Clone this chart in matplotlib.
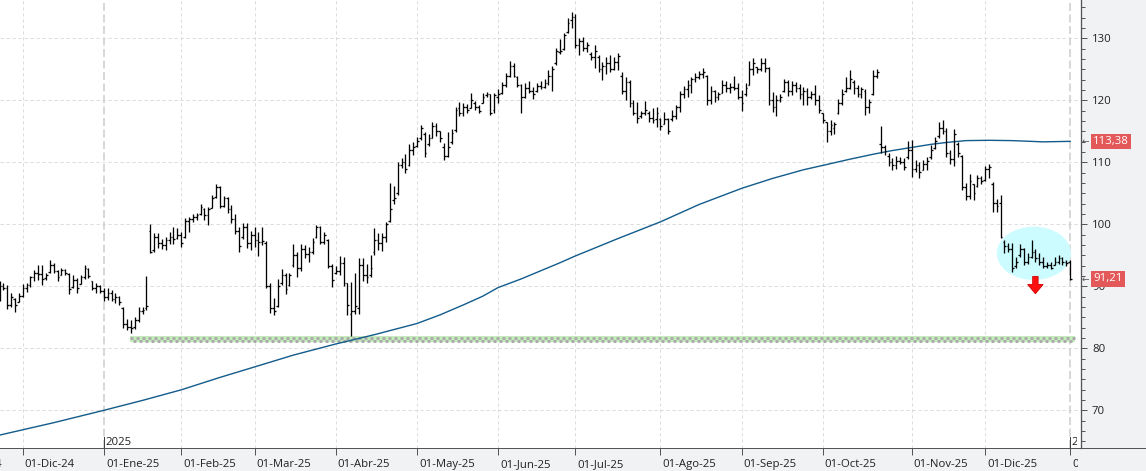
import numpy as np
import pandas as pd
import matplotlib
matplotlib.use("Agg")
import matplotlib.pyplot as plt
from matplotlib.collections import LineCollection
from matplotlib.patches import Ellipse, Polygon
from matplotlib.lines import Line2D
from matplotlib.transforms import blended_transform_factory, Bbox, TransformedBbox
from matplotlib.ticker import MultipleLocator

plt.rcParams['font.family'] = ['Open Sans', 'DejaVu Sans']
plt.rcParams['lines.scale_dashes'] = False

# ---------------- data ----------------
calendar_start = "2024-11-01"
first_day = "2024-11-21"
last_day = "2026-01-02"
holidays = ["2024-11-28", "2024-12-25", "2025-01-01", "2025-01-09", "2025-01-20",
            "2025-02-17", "2025-04-18", "2025-05-26", "2025-06-19", "2025-07-04",
            "2025-09-01", "2025-11-27", "2025-12-25", "2026-01-01"]

highs = [90.8, 90.5, 90.2, 88.9, 88.05, 88.9, 90.3, 90.5, 91.7, 92.6,
         93.5, 93.4, 92.1, 94.2, 93.7, 92.6, 93.0, 92.8, 92.1, 91.9,
         91.3, 91.8, 93.5, 93.0, 90.85, 90.5, 90.2, 89.8, 89.7, 89.4,
         89.0, 88.5, 86.7, 84.7, 84.6, 85.1, 86.7, 86.7, 91.7, 100.0,
         98.65, 98.55, 97.7, 98.0, 98.7, 99.6, 99.35, 98.8, 101.0, 101.2,
         101.6, 101.8, 103.2, 102.6, 102.8, 104.7, 106.45, 106.2, 104.6, 104.45,
         103.1, 101.6, 99.5, 100.2, 100.2, 98.9, 99.6, 98.8, 99.6, 97.3,
         90.6, 88.06, 91.1, 92.75, 92.2, 92.1, 96.8, 95.6, 96.8, 96.66,
         96.4, 97.74, 99.9, 99.7, 98.8, 97.58, 93.6, 93.2, 94.9, 94.67,
         90.6, 90.75, 92.2, 94.5, 94.5, 93.6, 95.05, 99.35, 98.55, 98.65,
         100.4, 106.6, 106.18, 110.1, 110.64, 111.34, 112.96, 113.33, 114.03, 116.02,
         114.95, 114.57, 116.56, 116.4, 115.1, 113.17, 114.95, 115.32, 118.98, 119.78,
         119.5, 119.4, 121.24, 119.94, 119.24, 121.13, 121.4, 121.02, 121.24, 121.8,
         123.0, 124.35, 126.4, 126.07, 123.92, 122.63, 122.85, 123.17, 122.1, 122.8,
         123.1, 123.4, 124.9, 125.6, 128.4, 129.9, 130.8, 133.2, 134.3, 134.0,
         130.1, 130.26, 129.46, 127.84, 129.0, 127.3, 126.2, 127.0, 127.3, 127.0,
         127.7, 124.6, 123.8, 123.3, 120.05, 119.8, 118.3, 119.9, 118.2, 118.7,
         119.0, 117.2, 118.06, 117.2, 118.4, 119.24, 121.5, 122.36, 123.27, 123.8,
         124.35, 124.7, 125.26, 124.1, 122.36, 121.66, 121.4, 123.27, 123.1, 122.74,
         123.97, 122.74, 121.66, 122.74, 126.34, 126.9, 125.4, 126.77, 126.77, 125.4,
         121.4, 120.85, 120.96, 123.4, 123.27, 123.1, 122.9, 122.57, 122.2, 122.0,
         121.55, 122.47, 120.85, 118.0, 116.55, 116.8, 116.55, 120.16, 121.77, 123.7,
         124.9, 123.27, 122.47, 122.2, 121.77, 120.16, 124.9, 125.0, 115.85, 112.8,
         111.55, 110.64, 111.0, 110.9, 110.64, 113.5, 113.6, 110.4, 110.1, 110.4,
         110.9, 112.8, 114.13, 116.55, 116.8, 115.5, 112.0, 115.3, 113.33, 111.2,
         106.6, 108.1, 106.5, 107.95, 107.8, 109.4, 109.7, 106.88, 104.03, 104.7,
         97.47, 97.0, 96.93, 94.78, 96.82, 96.1, 95.43, 97.47, 95.96, 95.43,
         94.78, 93.97, 93.97, 94.78, 95.05, 94.67, 94.24, 94.24]

lows = [87.6, 89.4, 86.4, 86.7, 85.9, 87.5, 88.2, 89.1, 89.9, 90.85,
        91.0, 90.2, 91.0, 92.1, 92.1, 90.85, 91.8, 91.9, 88.7, 89.8,
        89.0, 90.3, 91.2, 91.4, 89.4, 89.0, 88.9, 87.6, 87.8, 87.6,
        87.25, 87.0, 83.3, 82.95, 82.4, 83.1, 84.3, 85.5, 86.2, 95.3,
        95.6, 96.2, 96.0, 95.85, 96.8, 96.9, 97.6, 96.4, 97.85, 98.7,
        100.4, 100.7, 101.5, 100.7, 99.9, 102.6, 104.2, 102.6, 102.8, 101.8,
        100.2, 98.5, 95.5, 97.7, 96.2, 95.85, 96.4, 94.9, 96.7, 89.8,
        85.75, 85.4, 86.7, 90.2, 88.76, 90.05, 93.17, 91.56, 92.4, 94.5,
        93.98, 95.2, 97.74, 96.8, 96.8, 92.9, 89.9, 92.0, 91.8, 90.05,
        85.4, 82.0, 85.5, 85.5, 90.9, 90.5, 91.56, 95.05, 95.86, 95.75,
        97.2, 100.4, 103.3, 104.73, 109.03, 108.2, 109.4, 111.18, 112.53, 113.6,
        110.9, 112.63, 113.87, 114.25, 113.33, 110.38, 110.9, 112.96, 114.95, 117.47,
        117.4, 118.0, 118.7, 118.44, 118.0, 119.5, 120.6, 117.63, 118.0, 119.6,
        121.0, 122.2, 123.7, 123.7, 122.2, 118.0, 120.3, 121.13, 120.16, 121.3,
        121.9, 122.0, 122.47, 121.5, 125.7, 127.4, 128.1, 130.8, 131.7, 128.4,
        127.3, 127.95, 127.84, 126.5, 125.16, 124.6, 123.3, 124.2, 124.6, 124.9,
        124.9, 121.0, 120.05, 119.0, 117.6, 116.3, 117.2, 117.6, 116.55, 116.3,
        115.75, 115.2, 116.12, 114.5, 116.66, 117.0, 118.06, 120.4, 120.6, 121.1,
        122.9, 123.4, 123.65, 119.24, 119.35, 119.8, 120.05, 121.1, 121.3, 121.1,
        121.66, 120.2, 118.27, 120.75, 122.47, 124.1, 124.35, 124.7, 124.6, 119.24,
        118.17, 117.4, 119.8, 121.4, 120.75, 120.85, 121.3, 120.2, 119.24, 119.3,
        120.16, 119.24, 117.9, 116.3, 113.3, 114.4, 114.56, 117.8, 119.24, 121.4,
        121.77, 121.0, 120.6, 120.3, 117.63, 117.9, 120.85, 123.54, 111.55, 111.2,
        109.4, 108.76, 109.0, 109.7, 108.76, 110.5, 107.6, 108.5, 107.4, 108.76,
        108.76, 110.5, 112.1, 114.0, 114.56, 110.9, 109.7, 109.4, 110.9, 105.5,
        103.9, 104.03, 104.0, 106.07, 106.5, 107.04, 107.4, 102.04, 102.04, 97.74,
        95.3, 95.6, 92.36, 92.9, 94.78, 93.44, 93.6, 94.5, 93.97, 93.44,
        92.9, 92.9, 92.74, 93.44, 93.6, 93.44, 93.27, 91.0]

opens = [88.5, 90.0, 89.8, 87.0, 88.0, 87.5, 88.5, 89.8, 90.2, 91.5,
         92.2, 92.0, 91.3, 92.3, 93.5, 92.5, 91.9, 92.6, 92.0, 89.9,
         91.0, 90.3, 91.5, 92.8, 90.8, 89.8, 90.0, 89.2, 88.3, 88.9,
         88.0, 88.2, 86.5, 84.0, 83.5, 83.4, 84.5, 86.0, 86.5, 99.0,
         95.8, 98.0, 97.0, 96.6, 97.5, 98.0, 97.8, 98.3, 98.0, 100.5,
         100.8, 101.2, 101.6, 102.5, 101.5, 102.7, 104.4, 106.0, 103.0, 104.2,
         102.5, 100.8, 99.0, 98.0, 99.5, 97.0, 98.3, 97.5, 97.2, 97.0,
         90.0, 86.5, 86.8, 90.5, 91.8, 90.2, 93.5, 95.0, 93.0, 96.0,
         95.2, 95.5, 98.0, 99.5, 97.2, 97.5, 93.2, 92.2, 92.5, 93.8,
         90.5, 85.5, 86.0, 86.5, 93.5, 91.8, 91.8, 95.5, 97.5, 97.0,
         98.0, 100.5, 104.0, 105.0, 109.5, 110.0, 109.5, 112.0, 112.6, 114.0,
         114.5, 113.0, 114.0, 115.8, 115.0, 112.5, 111.0, 113.2, 115.2, 118.8,
         118.0, 119.0, 118.8, 119.5, 119.0, 119.6, 120.8, 121.0, 118.5, 120.5,
         121.2, 122.5, 124.0, 125.5, 123.8, 122.5, 120.5, 122.0, 121.5, 121.5,
         122.3, 122.2, 122.8, 124.0, 126.0, 127.8, 128.3, 131.0, 133.0, 133.5,
         129.0, 129.5, 128.5, 127.5, 127.0, 127.0, 125.0, 125.5, 126.0, 125.0,
         126.2, 124.0, 121.5, 123.0, 119.5, 118.0, 117.5, 118.0, 118.0, 117.2,
         117.0, 117.0, 116.2, 117.0, 117.0, 117.5, 119.0, 121.0, 121.8, 122.5,
         123.5, 123.8, 124.2, 124.0, 120.0, 121.5, 120.5, 121.2, 122.5, 122.0,
         122.2, 122.0, 120.5, 121.0, 122.5, 125.0, 125.4, 125.0, 126.0, 125.2,
         120.0, 119.0, 120.0, 121.5, 123.0, 121.5, 122.5, 122.0, 121.0, 121.5,
         120.5, 121.0, 120.0, 118.0, 116.5, 115.0, 115.5, 118.0, 119.5, 121.5,
         122.0, 123.0, 122.0, 121.0, 121.5, 119.0, 121.0, 124.0, 113.0, 112.5,
         111.0, 110.0, 109.5, 110.2, 110.0, 110.8, 112.0, 109.0, 109.5, 108.8,
         109.8, 110.8, 112.3, 114.2, 115.5, 115.0, 111.5, 110.5, 113.0, 111.0,
         106.0, 104.5, 106.5, 106.2, 107.5, 107.2, 109.0, 106.5, 103.5, 103.5,
         97.2, 96.5, 96.0, 93.2, 95.0, 96.0, 94.0, 94.8, 95.5, 94.5,
         94.0, 93.2, 93.5, 93.5, 94.0, 94.5, 94.0, 94.0]

closes = [90.0, 89.8, 87.0, 88.2, 87.0, 88.5, 89.8, 90.2, 91.5, 92.2,
          92.0, 91.2, 91.8, 93.5, 92.5, 91.5, 92.6, 92.2, 89.5, 91.0,
          89.8, 91.5, 93.0, 91.6, 89.8, 90.0, 89.2, 88.3, 88.9, 87.9,
          88.2, 87.4, 84.0, 83.5, 83.2, 84.5, 86.0, 86.2, 86.9, 95.6,
          98.0, 97.0, 96.6, 97.5, 98.0, 97.6, 98.3, 97.0, 100.5, 100.8,
          101.2, 101.5, 102.8, 101.5, 102.5, 104.2, 106.0, 103.0, 104.2, 102.5,
          100.8, 99.0, 96.5, 99.5, 97.0, 98.3, 97.5, 97.2, 97.3, 90.0,
          86.5, 86.0, 90.0, 91.8, 89.5, 91.8, 95.0, 93.0, 96.0, 95.2,
          95.5, 97.2, 99.5, 97.2, 98.2, 93.2, 91.0, 92.5, 93.8, 90.5,
          87.0, 86.0, 86.8, 93.5, 91.8, 91.5, 93.0, 97.5, 97.0, 98.0,
          100.0, 102.5, 104.2, 109.5, 110.0, 109.0, 112.0, 112.5, 113.5, 115.5,
          111.5, 114.0, 115.8, 115.0, 114.0, 111.0, 112.5, 114.8, 118.5, 118.0,
          119.0, 118.5, 120.0, 119.0, 118.3, 120.6, 121.0, 118.0, 120.8, 121.0,
          122.5, 124.0, 125.5, 124.0, 122.5, 120.5, 122.0, 121.5, 121.0, 122.3,
          122.2, 122.8, 124.0, 125.0, 128.0, 128.0, 130.5, 132.5, 133.5, 129.0,
          129.5, 128.5, 129.0, 127.0, 128.0, 125.0, 125.5, 126.0, 125.0, 126.2,
          127.2, 121.5, 123.0, 119.5, 118.0, 117.2, 118.0, 118.5, 117.2, 116.8,
          118.0, 115.8, 117.0, 115.0, 117.5, 119.0, 121.0, 121.8, 122.5, 123.5,
          123.8, 124.2, 124.5, 120.0, 121.5, 120.5, 121.0, 122.5, 122.0, 122.2,
          122.0, 120.5, 119.5, 122.0, 125.0, 126.0, 125.0, 126.0, 125.2, 120.0,
          119.0, 120.0, 120.5, 123.0, 121.5, 122.5, 122.0, 121.0, 121.5, 120.5,
          121.0, 120.0, 118.5, 116.8, 115.0, 116.0, 116.2, 119.5, 121.0, 122.0,
          123.5, 122.0, 121.0, 121.8, 119.0, 119.8, 124.0, 124.5, 112.5, 111.8,
          110.0, 109.5, 110.2, 110.0, 109.2, 112.0, 109.0, 109.5, 108.5, 109.8,
          110.2, 112.0, 113.5, 115.5, 115.0, 111.5, 110.5, 114.5, 111.5, 106.0,
          104.5, 107.0, 105.0, 107.5, 107.0, 109.0, 109.2, 103.5, 103.0, 98.0,
          96.5, 96.0, 93.0, 94.0, 96.0, 94.0, 94.8, 95.5, 94.5, 94.0,
          93.2, 93.5, 93.0, 94.0, 94.5, 94.0, 93.8, 91.21]

# 200-session moving average read at selected sessions
ma_session = [0, 14, 27, 37, 47, 57, 66, 76, 87, 97, 108, 114, 120, 125, 129, 135,
              140, 145, 149, 160, 171, 181, 192, 200, 208, 213, 220, 226, 231, 236,
              241, 245, 250, 256, 262, 270, 277]
ma_values = [66.0, 68.0, 70.0, 71.6, 73.3, 75.3, 77.0, 78.9, 80.7, 82.2,
             84.0, 85.4, 87.0, 88.4, 89.8, 91.2, 92.5, 93.8, 94.9, 97.7,
             100.4, 103.2, 105.8, 107.4, 108.8, 109.5, 110.5, 111.3, 111.9, 112.4,
             112.9, 113.2, 113.5, 113.55, 113.5, 113.3, 113.38]

month_labels = ["01-Nov-24", "01-Dic-24", "01-Ene-25", "01-Feb-25", "01-Mar-25",
                "01-Abr-25", "01-May-25", "01-Jun-25", "01-Jul-25", "01-Ago-25",
                "01-Sep-25", "01-Oct-25", "01-Nov-25", "01-Dic-25", "01-Ene-26"]
ma_label = "113,38"
close_label = "91,21"
last_ma = 113.38
last_close = 91.21
support_level = 81.5
y_ticks = [70, 80, 90, 100, 110, 120, 130]

# ---------------- calendar ----------------
cal = pd.bdate_range(calendar_start, last_day, freq="C", holidays=holidays)
offset = int(np.where(cal == pd.Timestamp(first_day))[0][0])
n = len(highs)
idx = np.arange(n)

month_key = cal.year * 100 + cal.month
first_of_month = [i for i in range(len(cal)) if i == 0 or month_key[i] != month_key[i - 1]]
month_pos = [i - offset for i in first_of_month]
jan_pos = [i - offset for i in first_of_month if cal[i].month == 1]
jan_years = [str(cal[i].year) for i in first_of_month if cal[i].month == 1]

# ---------------- figure ----------------
W, H = 1146, 471
fig = plt.figure(figsize=(W / 100, H / 100), dpi=100, facecolor="#F1F2F4")
ax = fig.add_axes([0, 23 / H, 1081 / W, 448 / H])
ax.set_facecolor("white")
PX = 0.72  # points per pixel

for s in ["top", "left", "bottom"]:
    ax.spines[s].set_visible(False)
ax.spines["right"].set_color("#555555")
ax.spines["right"].set_linewidth(1.3 * PX)

ax.yaxis.tick_right()
ax.set_yticks(y_ticks)
ax.yaxis.set_minor_locator(MultipleLocator(10 / 6))
ax.tick_params(axis="y", which="major", direction="out", length=6 * PX, width=1 * PX,
               color="#555555", labelsize=8.2, labelcolor="#222222", pad=5 * PX)
ax.tick_params(axis="y", which="minor", direction="out", length=4 * PX, width=1 * PX,
               color="#555555")
ax.set_xticks(month_pos)
ax.set_xticklabels([""] * len(month_pos))
ax.tick_params(axis="x", which="major", direction="out", length=7 * PX, width=1 * PX,
               color="#555555", pad=0)

# limits (after ticks so they are not widened)
ax.set_xlim(0.12, 279.8)
ax.set_ylim(63.92, 136.18)

# grid
grid_dash = (0, (3.2 * PX, 2.8 * PX))
for v in y_ticks:
    ax.axhline(v, color="#DCDCDC", lw=1 * PX, ls=grid_dash, zorder=0)
for p in month_pos:
    if p not in jan_pos:
        ax.axvline(p, color="#DCDCDC", lw=1 * PX, ls=grid_dash, zorder=0)
for p in jan_pos:
    ax.axvline(p, color="#CFCFCF", lw=1.6 * PX, ls=(0, (8 * PX, 3.5 * PX)), zorder=0.5)

# bottom axis line across the whole width
fig.add_artist(Line2D([0, 1], [23 / H, 23 / H], transform=fig.transFigure,
                      color="#555555", lw=1 * PX))

# month labels (left aligned after tick, clipped before the price panel)
xb = blended_transform_factory(ax.transData, ax.transAxes)
clip_bb = TransformedBbox(Bbox([[0, 0], [1078 / W, 1]]), fig.transFigure)
for p, lab in zip(month_pos, month_labels):
    t = ax.annotate(lab, xy=(p, 0), xycoords=xb, xytext=(2 * PX, -19 * PX),
                    textcoords="offset points", ha="left", va="baseline",
                    fontsize=8.2, color="#222222", annotation_clip=False)
    t.set_clip_on(True)
    t.set_clip_box(clip_bb)

# year separators' labels
year_clip = TransformedBbox(Bbox([[0, 0], [1077 / W, 1]]), fig.transFigure)
for p, yr in zip(jan_pos, jan_years):
    ax.plot([p, p], [0, 11 / 448], transform=xb, color="#404040", lw=1 * PX, zorder=4)
    t = ax.annotate(yr, xy=(p, 0), xycoords=xb, xytext=(1.5 * PX, 3 * PX),
                    textcoords="offset points", ha="left", va="baseline",
                    fontsize=8.2, color="#222222", annotation_clip=False)
    t.set_clip_on(True)
    t.set_clip_box(year_clip)

# highlight ellipse
ax.add_patch(Ellipse((267.6, 95.32), width=19.2, height=8.6,
                     facecolor="#CCFCFF", edgecolor="none", zorder=1))

# support line (checkered)
sx0, sx1 = 33.8, 278.3
ax.plot([sx0, sx1], [support_level] * 2, color="#C6ECBE", lw=6 * PX,
        solid_capstyle="butt", zorder=2)
d = 1.5 / 6.2
ax.plot([sx0, sx1], [support_level + d] * 2, color="#A8A8A8", lw=2.8 * PX,
        ls=(0, (3 * PX, 3 * PX)), zorder=2.1)
ax.plot([sx0, sx1], [support_level - d] * 2, color="#A8A8A8", lw=2.8 * PX,
        ls=(3 * PX, (3 * PX, 3 * PX)), zorder=2.1)

# moving average
ax.plot(ma_session, ma_values, color="#135C8C", lw=1.4 * PX, zorder=2.5)

# OHLC bars
tk = 0.45
segs = []
for i in idx:
    segs.append([(i, lows[i]), (i, highs[i])])
    segs.append([(i - tk, opens[i]), (i, opens[i])])
    segs.append([(i, closes[i]), (i + tk, closes[i])])
ax.add_collection(LineCollection(segs, colors="black", linewidths=1.3 * PX,
                                 capstyle="butt", zorder=3))

# red arrow below the highlight
ax_c = 268.0
arrow_pts = [(ax_c - 0.7, 91.6), (ax_c + 0.7, 91.6), (ax_c + 0.7, 90.3),
             (ax_c + 2.0, 90.3), (ax_c, 88.8), (ax_c - 2.0, 90.3), (ax_c - 0.7, 90.3)]
ax.add_patch(Polygon(arrow_pts, closed=True, facecolor="#FF1010",
                     edgecolor="#D00000", lw=0.6, zorder=5))

# price tags on the right axis
yb = blended_transform_factory(ax.transAxes, ax.transData)
for val, lab in [(last_ma, ma_label), (last_close, close_label)]:
    ax.text(1 + 12 / 1081, val, lab, transform=yb, ha="left", va="center",
            fontsize=8.2, color="white", clip_on=False, zorder=10,
            bbox=dict(boxstyle="square,pad=0.2", facecolor="#E35858", edgecolor="none"))
    ax.text(1 + 1 / 1081, val, "←", transform=yb, ha="left", va="center",
            fontsize=6.5, color="#555555", clip_on=False, zorder=10,
            family=["DejaVu Sans"])

fig.savefig("out.png", dpi=100, facecolor=fig.get_facecolor())
